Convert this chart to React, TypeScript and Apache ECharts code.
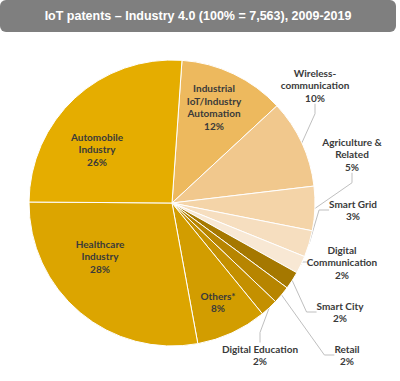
import React, { useEffect, useRef } from "react";
import * as echarts from "echarts";

const titleText = "IoT patents \u2013 Industry 4.0 (100% = 7,563), 2009-2019";
const categories = [
  "Industrial\nIoT/Industry\nAutomation",
  "Wireless-\ncommunication",
  "Agriculture &\nRelated",
  "Smart Grid",
  "Digital\nCommunication",
  "Smart City",
  "Retail",
  "Digital Education",
  "Others*",
  "Healthcare\nIndustry",
  "Automobile\nIndustry",
];
const shares = [12, 10, 5, 3, 2, 2, 2, 2, 8, 28, 26];
const sliceColors = [
  "#EDB95E",
  "#F1C88D",
  "#F4D4A8",
  "#F6DEBF",
  "#F8E8D4",
  "#A57800",
  "#B78500",
  "#C49000",
  "#D29D00",
  "#DCA500",
  "#E5AD00",
];
const insideIdx = [0, 8, 9, 10];
// label anchor positions (layout, px)
const labelPos: [number, number][] = [
  [214, 107],
  [315, 85],
  [352, 154],
  [353, 210],
  [342, 262],
  [340, 312],
  [347, 355],
  [260, 355],
  [218, 302],
  [100, 256],
  [97, 149],
];

export default function App() {
  const ref = useRef<HTMLDivElement>(null);
  useEffect(() => {
    document.body.style.margin = "0";
    const chart = echarts.init(ref.current!, undefined, { renderer: "svg" });
    const data = categories.map((name, i) => {
      const inside = insideIdx.includes(i);
      return {
        name,
        value: shares[i],
        itemStyle: { color: sliceColors[i] },
        label: { position: inside ? "inside" : "outside" },
        labelLine: { show: !inside },
      };
    });
    chart.setOption({
      animation: false,
      graphic: [
        {
          type: "rect",
          shape: { x: 0, y: 0, width: 396, height: 32, r: 6 },
          style: { fill: "#7F7F7F" },
          z: 10,
        },
        {
          type: "text",
          x: 198,
          y: 16,
          z: 11,
          style: {
            text: titleText,
            fill: "#FFFFFF",
            font: "bold 12.5px 'Liberation Sans', Arial, sans-serif",
            align: "center",
            verticalAlign: "middle",
          },
        },
      ],
      series: [
        {
          type: "pie",
          center: [172, 203],
          radius: 143,
          startAngle: 86,
          clockwise: true,
          avoidLabelOverlap: false,
          itemStyle: { borderColor: "#FFFFFF", borderWidth: 1 },
          label: {
            formatter: "{b}\n{c}%",
            color: "#3A3A3A",
            fontFamily: "Lato",
            fontWeight: "bold",
            fontSize: 10,
            lineHeight: 12.5,
            align: "center",
          },
          labelLine: {
            lineStyle: { color: "#BFBFBF", width: 1 },
            length: 10,
            length2: 10,
          },
          labelLayout: (p: any) => {
            const pos = labelPos[p.dataIndex];
            return { x: pos[0], y: pos[1], align: "center", verticalAlign: "middle" };
          },
          emphasis: { disabled: true },
          data,
        },
      ],
    });
    return () => chart.dispose();
  }, []);
  return <div ref={ref} style={{ width: 400, height: 381 }} />;
}
